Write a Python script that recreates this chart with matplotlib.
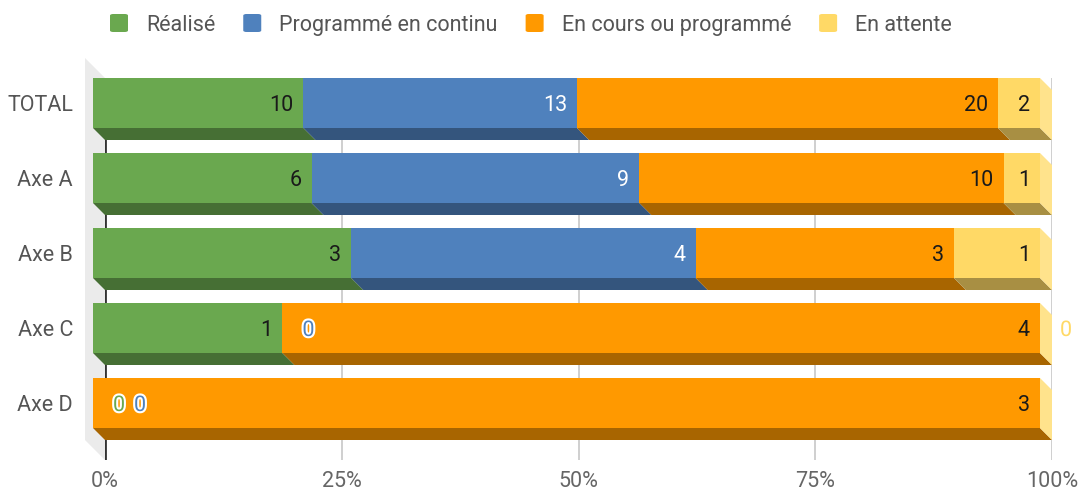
import matplotlib

matplotlib.use("Agg")

import matplotlib.pyplot as plt
import matplotlib.patheffects as pe
from matplotlib.colors import to_rgb
from matplotlib.patches import FancyBboxPatch, Polygon

plt.rcParams["font.family"] = ["Roboto", "DejaVu Sans"]

categories = ["TOTAL", "Axe A", "Axe B", "Axe C", "Axe D"]
series = ["Réalisé", "Programmé en continu", "En cours ou programmé", "En attente"]
realise = [10, 6, 3, 1, 0]
continu = [13, 9, 4, 0, 0]
en_cours = [20, 10, 3, 4, 3]
en_attente = [2, 1, 1, 0, 0]
x_ticks = [0, 25, 50, 75, 100]
x_tick_labels = ["0%", "25%", "50%", "75%", "100%"]
# zero labels the reference chart does not show
hidden_zero = [("Axe D", "En attente")]

colors = ["#6aa84f", "#4f81bd", "#ff9900", "#ffd966"]
label_colors = ["#1a1a1a", "white", "#1a1a1a", "#1a1a1a"]
side_color = "#ffe38c"
wall_color = "#ebebeb"
fs = 15.5

W, H = 1080, 492
fig = plt.figure(figsize=(W / 100, H / 100), dpi=100)
ax_left, ax_right, ax_top, ax_bottom = 105, 1052, 78, 460
ax = fig.add_axes([ax_left / W, 1 - ax_bottom / H, (ax_right - ax_left) / W, (ax_bottom - ax_top) / H])

pitch = 75.0
first_center = 103
ax.set_xlim(0, 100)
ax.set_ylim((ax_bottom - first_center) / pitch, (ax_top - first_center) / pitch)

px_x = 100.0 / (ax_right - ax_left)
px_y = 1.0 / pitch
depth = 12
dx, dy = depth * px_x, depth * px_y
half = 25 * px_y


def darker(c, f=0.66):
    r, g, b = to_rgb(c)
    return (r * f, g * f, b * f)


# left wall
wall_d = 20
y_top_lim, y_bot_lim = ax.get_ylim()[1], ax.get_ylim()[0]
wall = Polygon([(-wall_d * px_x, y_top_lim - wall_d * px_y), (0, y_top_lim), (0, y_bot_lim),
                (-wall_d * px_x, y_bot_lim - wall_d * px_y)],
               closed=True, facecolor=wall_color, edgecolor="none", clip_on=False, zorder=0)
ax.add_patch(wall)

ax.set_xticks(x_ticks)
ax.set_xticklabels(x_tick_labels)
ax.grid(axis="x", color="#cccccc", linewidth=1.3, zorder=0.5)
ax.set_axisbelow(True)
ax.axvline(0, color="#333333", linewidth=2, zorder=0.6)
for s in ax.spines.values():
    s.set_visible(False)
ax.set_yticks(range(len(categories)))
ax.set_yticklabels(categories)
ax.tick_params(axis="x", length=0, pad=8, labelsize=fs, labelcolor="#666666")
ax.tick_params(axis="y", length=0, pad=23, labelsize=fs, labelcolor="#555555")

values = [realise, continu, en_cours, en_attente]
for i, cat in enumerate(categories):
    row = [v[i] for v in values]
    total = sum(row)
    cum = 0.0
    zero_slot = None
    for k, v in enumerate(row):
        x0 = cum / total * 100
        x1 = (cum + v) / total * 100
        cum += v
        f0, f1 = x0 - dx, x1 - dx
        if v > 0:
            ax.barh(i, x1 - x0, left=f0, height=2 * half, color=colors[k],
                    linewidth=0, zorder=3, clip_on=False)
            bottom = Polygon([(f0, i + half), (f1, i + half), (x1, i + half + dy), (x0, i + half + dy)],
                             closed=True, facecolor=darker(colors[k]), edgecolor="none",
                             zorder=2, clip_on=False)
            ax.add_patch(bottom)
            ax.text(f1 - 10 * px_x, i, str(v), ha="right", va="center_baseline",
                    fontsize=fs, color=label_colors[k], zorder=5)
            zero_slot = None
        else:
            if (cat, series[k]) in hidden_zero:
                continue
            xs = f1 + 20 * px_x if zero_slot is None else zero_slot + 21 * px_x
            zero_slot = xs
            ax.text(xs, i, "0", ha="left", va="center_baseline", fontsize=fs,
                    color=colors[k], zorder=5, clip_on=False,
                    path_effects=[pe.withStroke(linewidth=3, foreground="white")])
    # right side face
    side = Polygon([(100 - dx, i - half), (100, i - half + dy), (100, i + half + dy), (100 - dx, i + half)],
                   closed=True, facecolor=side_color, edgecolor="none", zorder=2, clip_on=False)
    ax.add_patch(side)

# legend
renderer = fig.canvas.get_renderer()
x = 110
y_mid = 23
for k, name in enumerate(series):
    sq = FancyBboxPatch(((x) / W, 1 - (y_mid + 9) / H), 18 / W, 18 / H,
                        boxstyle="round,pad=0,rounding_size=0.003", transform=fig.transFigure,
                        facecolor=colors[k], edgecolor="none")
    fig.patches.append(sq)
    t = fig.text((x + 36) / W, 1 - y_mid / H, name, ha="left", va="center_baseline",
                 fontsize=fs, color="#555555")
    w = t.get_window_extent(renderer).width
    x = x + 36 + w + 28

fig.savefig("out.png", dpi=100)
